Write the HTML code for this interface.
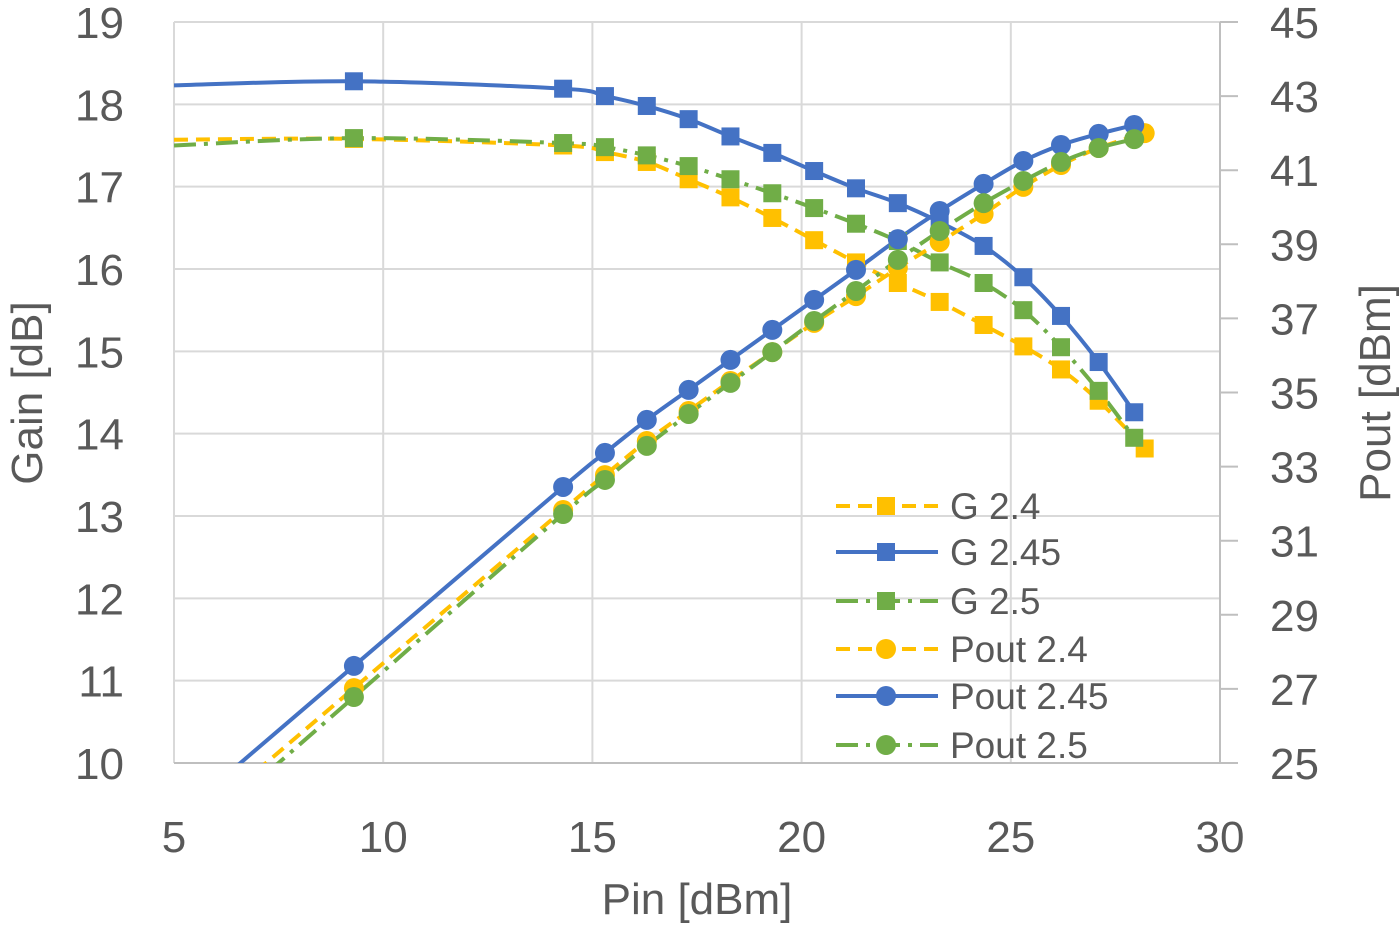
<!DOCTYPE html>
<html><head><meta charset="utf-8">
<style>
html,body{margin:0;padding:0;background:#fff;}
svg{display:block;font-family:"Liberation Sans",sans-serif;}
</style></head>
<body>
<svg id="chart" width="1400" height="925" viewBox="0 0 1400 925" xmlns="http://www.w3.org/2000/svg">
<rect width="1400" height="925" fill="#fff"/>
<g id="grid"></g>
<g id="axes"></g>
<defs><clipPath id="plotclip"><rect x="174" y="22" width="1046" height="741"/></clipPath></defs>
<g id="series" clip-path="url(#plotclip)"></g>
<g id="markers"></g>
<g id="legend"></g>
<text x="697" y="914" font-size="44" fill="#595959" text-anchor="middle">Pin [dBm]</text>
<text transform="translate(42,393) rotate(-90)" font-size="44" fill="#595959" text-anchor="middle">Gain [dB]</text>
<text transform="translate(1390,393) rotate(-90)" font-size="44" fill="#595959" text-anchor="middle">Pout [dBm]</text>
</svg>
<script>
const xTicks=[5,10,15,20,25,30];
const gainTicks=[10,11,12,13,14,15,16,17,18,19];
const poutTicks=[25,27,29,31,33,35,37,39,41,43,45];
const pinA=[9.3,14.3,15.3,16.3,17.3,18.3,19.3,20.3,21.3,22.3,23.3,24.35,25.3,26.2,27.1,27.95];
const pinB=[9.3,14.3,15.3,16.3,17.3,18.3,19.3,20.3,21.3,22.3,23.3,24.35,25.3,26.2,27.1,28.2];
const g245=[18.28,18.19,18.10,17.98,17.82,17.61,17.41,17.19,16.98,16.80,16.57,16.28,15.90,15.43,14.87,14.26];
const g24=[17.58,17.50,17.42,17.30,17.09,16.87,16.62,16.35,16.08,15.83,15.60,15.32,15.06,14.78,14.40,13.82];
const g25=[17.59,17.53,17.48,17.38,17.25,17.09,16.92,16.74,16.55,16.34,16.08,15.83,15.50,15.05,14.52,13.95];
const p245=[27.62,32.45,33.37,34.26,35.07,35.88,36.69,37.50,38.31,39.14,39.90,40.63,41.25,41.68,41.98,42.22];
const p24=[27.02,31.83,32.77,33.69,34.50,35.31,36.09,36.88,37.60,38.36,39.06,39.82,40.55,41.14,41.60,42.00];
const p25=[26.78,31.72,32.64,33.56,34.42,35.26,36.09,36.93,37.74,38.58,39.36,40.11,40.71,41.22,41.60,41.84];
const gStart=[18.23,17.57,17.50];

const NS="http://www.w3.org/2000/svg";
const X0=174,X1=1220,YT=22,YB=763;
const sx=v=>X0+(v-5)/25*(X1-X0);
const sg=v=>YB-(v-10)/9*(YB-YT);
const sp=v=>YB-(v-25)/20*(YB-YT);
function mk(tag,attrs,parent){const e=document.createElementNS(NS,tag);for(const k in attrs)e.setAttribute(k,attrs[k]);parent.appendChild(e);return e;}
const grid=document.getElementById('grid'),axes=document.getElementById('axes'),series=document.getElementById('series'),markers=document.getElementById('markers'),legend=document.getElementById('legend');
xTicks.forEach(t=>{
 const l=mk('line',{x1:sx(t),x2:sx(t),y1:YT,y2:YB,stroke:'#d9d9d9','stroke-width':2},grid);
 
 
 const tx=mk('text',{x:sx(t),y:852,'font-size':44,fill:'#595959','text-anchor':'middle'},axes);
 tx.textContent=t;
 
 
});
gainTicks.forEach(t=>{
 const l=mk('line',{x1:X0,x2:X1,y1:sg(t),y2:sg(t),stroke:'#d9d9d9','stroke-width':2},grid);
 
 
 const tx=mk('text',{x:124,y:sg(t)+16,'font-size':44,fill:'#595959','text-anchor':'end'},axes);
 tx.textContent=t;
 
 
});
poutTicks.forEach(t=>{
 const l=mk('line',{x1:X1,x2:X1+18,y1:sp(t),y2:sp(t),stroke:'#bfbfbf','stroke-width':2},axes);
 
 
 const tx=mk('text',{x:1270,y:sp(t)+16,'font-size':44,fill:'#595959'},axes);
 tx.textContent=t;
 
 
});
const bl=mk('line',{x1:X0,x2:X1,y1:YB,y2:YB,stroke:'#bfbfbf','stroke-width':2},axes);


const rl=mk('line',{x1:X1,x2:X1,y1:YT,y2:YB,stroke:'#bfbfbf','stroke-width':2},axes);



function smooth(pts){
 let d='M'+pts[0][0]+','+pts[0][1];
 for(let i=0;i<pts.length-1;i++){
  const p0=pts[i-1]||pts[i],p1=pts[i],p2=pts[i+1],p3=pts[i+2]||p2;
  const c1=[p1[0]+(p2[0]-p0[0])/6,p1[1]+(p2[1]-p0[1])/6];
  const c2=[p2[0]-(p3[0]-p1[0])/6,p2[1]-(p3[1]-p1[1])/6];
  d+=' C'+c1+' '+c2+' '+p2;
 }
 return d;
}
const YEL='#FFC000',BLU='#4472C4',GRN='#70AD47';
const defs=[
 {name:'g-2-4',x:pinB,y:g24,sc:sg,col:YEL,dash:'14,8',sq:true,start:gStart[1]},
 {name:'g-2-45',x:pinA,y:g245,sc:sg,col:BLU,dash:'',sq:true,start:gStart[0]},
 {name:'g-2-5',x:pinA,y:g25,sc:sg,col:GRN,dash:'22,8,4,8',sq:true,start:gStart[2]},
 {name:'pout-2-4',x:pinB,y:p24,sc:sp,col:YEL,dash:'14,8',sq:false},
 {name:'pout-2-45',x:pinA,y:p245,sc:sp,col:BLU,dash:'',sq:false},
 {name:'pout-2-5',x:pinA,y:p25,sc:sp,col:GRN,dash:'22,8,4,8',sq:false}
];
defs.forEach(s=>{
 let pts=s.x.map((v,i)=>[sx(v),s.sc(s.y[i])]);
 if(s.sq){pts.unshift([sx(5),s.sc(s.start)]);}
 else{const slope=(s.y[1]-s.y[0])/(s.x[1]-s.x[0]);const xs=s.x[0]-(s.y[0]-24)/slope;pts.unshift([sx(xs),s.sc(24)]);}
 const p=mk('path',{d:smooth(pts),fill:'none',stroke:s.col,'stroke-width':4,'stroke-dasharray':s.dash},series);
 
 
 s.x.forEach((v,i)=>{
  const cx=sx(v),cy=s.sc(s.y[i]);
  let m;
  if(s.sq)m=mk('rect',{x:cx-9,y:cy-9,width:18,height:18,fill:s.col},markers);
  else m=mk('circle',{cx:cx,cy:cy,r:10,fill:s.col},markers);
  
  
 });
});
const labels=['G 2.4','G 2.45','G 2.5','Pout 2.4','Pout 2.45','Pout 2.5'];
const ly=[506,552,601,649,696,745];
defs.forEach((s,i)=>{
 const g=mk('g',{},legend);
 
 
 mk('line',{x1:836,x2:938,y1:ly[i],y2:ly[i],stroke:s.col,'stroke-width':4,'stroke-dasharray':s.dash},g);
 if(s.sq)mk('rect',{x:877,y:ly[i]-9,width:18,height:18,fill:s.col},g);
 else mk('circle',{cx:886,cy:ly[i],r:10,fill:s.col},g);
 const t=mk('text',{x:950,y:ly[i]+13,'font-size':37,fill:'#595959'},g);
 t.textContent=labels[i];
});
</script>
</body></html>
